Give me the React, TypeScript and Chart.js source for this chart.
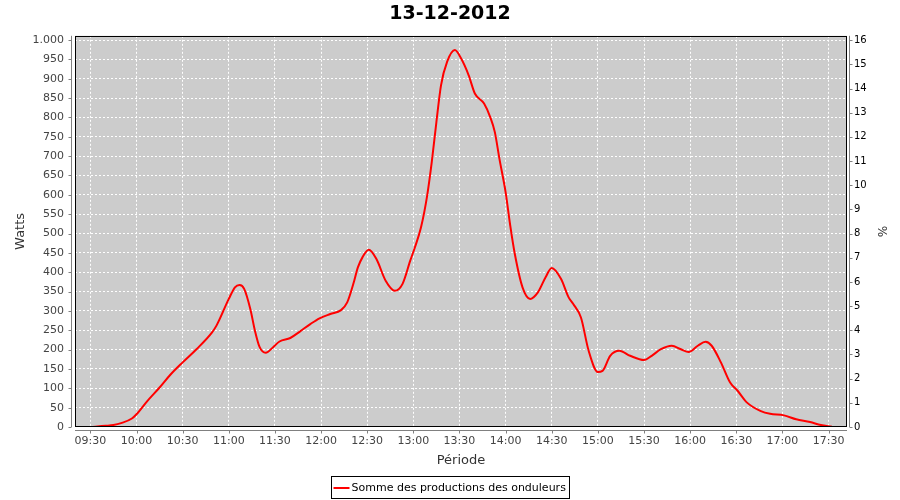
import React, { useEffect, useRef } from "react";
import { Chart, registerables } from "chart.js";

Chart.register(...registerables);

const chartTitle = "13-12-2012";
const seriesLabel = "Somme des productions des onduleurs";
const yTitle = "Watts";
const y2Title = "%";
const xTitle = "Période";

const times = [
  "09:30", "09:40", "09:45", "09:50", "09:57", "10:00", "10:07", "10:15", "10:22", "10:30",
  "10:39", "10:49", "10:52", "11:00", "11:04", "11:07", "11:10", "11:14", "11:17", "11:20",
  "11:24", "11:29", "11:33", "11:40", "11:46", "11:53", "11:59", "12:06", "12:13", "12:17",
  "12:21", "12:24", "12:27", "12:31", "12:36", "12:42", "12:48", "12:53", "12:58", "13:01",
  "13:05", "13:09", "13:12", "13:15", "13:18", "13:22", "13:27", "13:31", "13:36", "13:40",
  "13:46", "13:50", "13:53", "13:56", "14:00", "14:03", "14:06", "14:11", "14:16", "14:21",
  "14:26", "14:30", "14:36", "14:41", "14:44", "14:49", "14:54", "15:00", "15:03", "15:08",
  "15:14", "15:21", "15:30", "15:35", "15:41", "15:48", "15:54", "15:59", "16:05", "16:10",
  "16:14", "16:20", "16:26", "16:31", "16:37", "16:46", "16:52", "17:01", "17:09", "17:18",
  "17:25", "17:32",
];

const watts = [
  0, 3, 5, 10, 22, 33, 67, 102, 135, 167,
  201, 244, 262, 331, 361, 367, 357, 305, 249, 207,
  192, 207, 221, 230, 246, 266, 281, 292, 302, 322,
  370, 413, 439, 458, 434, 378, 352, 370, 430, 464,
  516, 598, 685, 788, 883, 944, 974, 953, 909, 862,
  836, 801, 762, 693, 607, 521, 447, 361, 331, 348,
  387, 411, 383, 335, 318, 283, 197, 142, 145, 184,
  197, 184, 173, 184, 201, 210, 201, 194, 210, 220,
  210, 167, 115, 93, 63, 41, 34, 30, 20, 13,
  5, 1,
];

const xTickLabels = [
  "09:30", "10:00", "10:30", "11:00", "11:30", "12:00", "12:30", "13:00", "13:30",
  "14:00", "14:30", "15:00", "15:30", "16:00", "16:30", "17:00", "17:30",
];
const yTicks = [0, 50, 100, 150, 200, 250, 300, 350, 400, 450, 500, 550, 600, 650, 700, 750, 800, 850, 900, 950, 1000];
const y2Ticks = [0, 1, 2, 3, 4, 5, 6, 7, 8, 9, 10, 11, 12, 13, 14, 15, 16];

const toMin = (t: string) => {
  const [h, m] = t.split(":").map(Number);
  return h * 60 + m;
};
const fmtMin = (v: number) => {
  const h = Math.floor(v / 60);
  const m = Math.round(v - h * 60);
  return String(h).padStart(2, "0") + ":" + String(m).padStart(2, "0");
};
const fmtWatts = (v: number) => (v >= 1000 ? Math.floor(v / 1000) + "." + String(v % 1000).padStart(3, "0") : String(v));

const FONT = "'DejaVu Sans', sans-serif";

const framePlugin = {
  id: "frame",
  beforeDraw(chart: any) {
    const { ctx, chartArea: a } = chart;
    ctx.save();
    ctx.fillStyle = "#cccccc";
    ctx.fillRect(a.left, a.top, a.right - a.left, a.bottom - a.top);
    ctx.restore();
  },
  afterDraw(chart: any) {
    const { ctx, chartArea: a, scales } = chart;
    ctx.save();
    ctx.strokeStyle = "#000";
    ctx.lineWidth = 1;
    ctx.strokeRect(Math.round(a.left) + 0.5, Math.round(a.top) + 0.5, Math.round(a.right - a.left) - 1, Math.round(a.bottom - a.top) - 1);
    ctx.strokeStyle = "#808080";
    ctx.beginPath();
    const lx = Math.round(a.left) - 3.5;
    ctx.moveTo(lx, a.top);
    ctx.lineTo(lx, a.bottom);
    for (const t of scales.y.ticks) {
      const py = Math.round(scales.y.getPixelForValue(t.value)) + 0.5;
      ctx.moveTo(lx - 3, py);
      ctx.lineTo(lx, py);
    }
    const by = Math.round(a.bottom) + 3.5;
    ctx.moveTo(a.left, by);
    ctx.lineTo(a.right, by);
    for (const t of scales.x.ticks) {
      const px = Math.round(scales.x.getPixelForValue(t.value)) + 0.5;
      ctx.moveTo(px, by);
      ctx.lineTo(px, by + 3);
    }
    const rx = Math.round(a.right) + 2.5;
    ctx.moveTo(rx, a.top);
    ctx.lineTo(rx, a.bottom);
    for (const t of scales.y2.ticks) {
      const py = Math.round(scales.y2.getPixelForValue(t.value)) + 0.5;
      ctx.moveTo(rx, py);
      ctx.lineTo(rx + 3, py);
    }
    ctx.stroke();
    ctx.font = "11px " + FONT;
    const tw = ctx.measureText(seriesLabel).width;
    const boxW = tw + 24;
    const bx = Math.round(450 - boxW / 2) + 0.5;
    const bTop = 476.5;
    ctx.strokeStyle = "#000";
    ctx.lineWidth = 1;
    ctx.strokeRect(bx, bTop, Math.round(boxW), 22);
    ctx.strokeStyle = "#ff0000";
    ctx.lineWidth = 2;
    ctx.beginPath();
    ctx.moveTo(bx + 2, 488);
    ctx.lineTo(bx + 18, 488);
    ctx.stroke();
    ctx.fillStyle = "#000";
    ctx.textBaseline = "middle";
    ctx.textAlign = "left";
    ctx.fillText(seriesLabel, bx + 20, 488);
    ctx.restore();
  },
};

export default function App() {
  const ref = useRef<HTMLCanvasElement>(null);
  useEffect(() => {
    document.body.style.margin = "0";
    const points = times.map((t, i) => ({ x: toMin(t), y: watts[i] }));
    const xTickVals = xTickLabels.map(toMin);
    const chart = new Chart(ref.current!, {
      type: "line",
      data: {
        datasets: [
          {
            label: seriesLabel,
            data: points,
            borderColor: "#ff0000",
            backgroundColor: "#ff0000",
            borderWidth: 2,
            pointRadius: 0,
            cubicInterpolationMode: "monotone",
            yAxisID: "y",
          },
        ],
      },
      options: {
        responsive: false,
        animation: false,
        layout: { padding: { left: 0, right: 0, top: 0, bottom: 30 } },
        plugins: {
          legend: { display: false },
          tooltip: { enabled: false },
          title: {
            display: true,
            text: chartTitle,
            color: "#000",
            font: { family: FONT, size: 19, weight: "bold" },
            padding: { top: 3, bottom: 10 },
          },
        },
        scales: {
          x: {
            type: "linear",
            min: 560,
            max: 1062,
            afterBuildTicks: (s: any) => {
              s.ticks = xTickVals.map((v) => ({ value: v }));
            },
            afterFit: (s: any) => {
              s.height = 43;
            },
            grid: { color: "#ffffff", lineWidth: 1, drawTicks: false },
            border: { display: false, dash: [2, 2] },
            ticks: {
              color: "#444",
              font: { family: FONT, size: 11 },
              padding: 8,
              maxRotation: 0,
              autoSkip: false,
              callback: (v: any) => fmtMin(Number(v)),
            },
            title: {
              display: true,
              text: xTitle,
              color: "#333",
              font: { family: FONT, size: 13 },
              padding: { top: 0, bottom: 2 },
            },
          },
          y: {
            type: "linear",
            position: "left",
            min: 0,
            max: 1011,
            afterBuildTicks: (s: any) => {
              s.ticks = yTicks.map((v) => ({ value: v }));
            },
            afterFit: (s: any) => {
              s.width = 75;
            },
            grid: { color: "#ffffff", lineWidth: 1, drawTicks: false },
            border: { display: false, dash: [2, 2] },
            ticks: {
              color: "#444",
              font: { family: FONT, size: 11 },
              padding: 11,
              autoSkip: false,
              callback: (v: any) => fmtWatts(Number(v)),
            },
            title: {
              display: true,
              text: yTitle,
              color: "#333",
              font: { family: FONT, size: 13 },
              padding: { top: 13, bottom: 0 },
            },
          },
          y2: {
            type: "linear",
            position: "right",
            min: 0,
            max: 16.18,
            afterBuildTicks: (s: any) => {
              s.ticks = y2Ticks.map((v) => ({ value: v }));
            },
            afterFit: (s: any) => {
              s.width = 53;
            },
            grid: { display: false, drawTicks: false },
            border: { display: false },
            ticks: {
              color: "#000",
              font: { family: FONT, size: 10 },
              padding: 7,
              autoSkip: false,
              callback: (v: any) => String(v),
            },
            title: {
              display: true,
              text: y2Title,
              color: "#333",
              font: { family: FONT, size: 12 },
              padding: { top: 12, bottom: 0 },
            },
          },
        },
      },
      plugins: [framePlugin],
    });
    return () => chart.destroy();
  }, []);
  return (
    <div style={{ position: "absolute", left: 0, top: 0, width: 900, height: 500, background: "#fff" }}>
      <canvas ref={ref} width={900} height={500} style={{ display: "block" }} />
    </div>
  );
}
